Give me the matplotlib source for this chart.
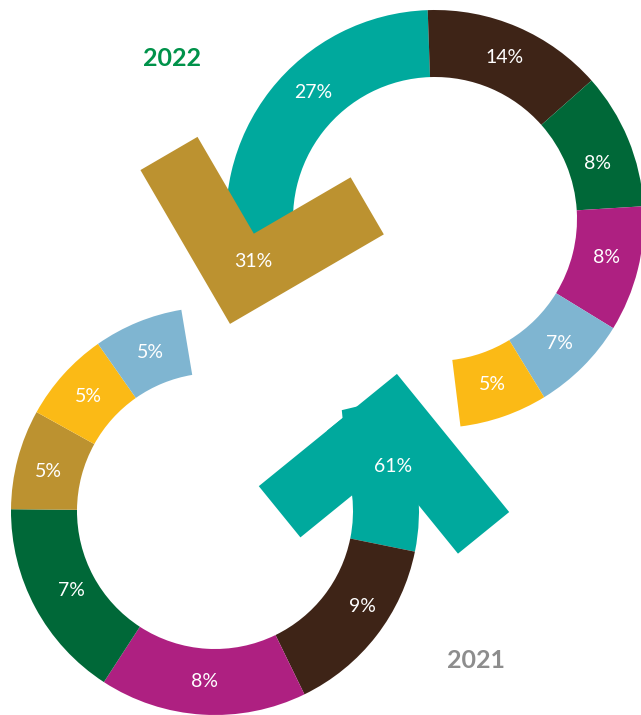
import numpy as np
import matplotlib
matplotlib.use("Agg")
import matplotlib.pyplot as plt
from matplotlib.patches import Wedge, Polygon

plt.rcParams['font.family'] = ['Lato', 'DejaVu Sans']

# ---------------- data ----------------
categories = ['Teal', 'Brown', 'Dark green', 'Magenta', 'Light blue', 'Yellow', 'Gold']
colors = ['#00A99D', '#3E2417', '#006838', '#AE2081', '#7FB5D1', '#FBBA16', '#BC9230']
values_2022 = [27, 14, 8, 8, 7, 5, 31]
values_2021 = [61, 9, 7, 8, 5, 5, 5]
years = ['2022', '2021']

color_of = dict(zip(categories, colors))

# ---------------- layout (infographic, not to scale) ----------------
W, H = 641, 715
rings = [
    dict(year=years[0], values=dict(zip(categories, values_2022)),
         center=(435, 496), r_out=209, r_in=142,
         order=['Teal', 'Brown', 'Dark green', 'Magenta', 'Light blue', 'Yellow'],
         edges=[176, 92, 41.5, 3.5, -31.5, -58.5, -83], tuck=16,
         label_at={'Dark green': (172, 19), 'Magenta': (176, -12.5)},
         arrow='Gold', tip=(230.3, 207.1), point=255.2, arrow_label=(187, 193),
         year_pos=(172, H - 59), year_color='#00924A', notch=None),
    dict(year=years[1], values=dict(zip(categories, values_2021)),
         center=(215, 204), r_out=204, r_in=138,
         order=['Teal', 'Brown', 'Magenta', 'Dark green', 'Gold', 'Yellow', 'Light blue'],
         edges=[60, -11.5, -64, -123, -180.5, -209, -235, -260.5], tuck=0,
         label_at={'Brown': (176, -33), 'Dark green': (164, -151), 'Gold': (171, 166.5)},
         arrow='Teal', tip=(227.8, 37.0), point=84.1, arrow_label=(184, 14),
         year_pos=(476, H - 660), year_color='#8D8D8D',
         notch=(162, 38.5, 13.4, -84.3)),
]
ARM_LEN, ARM_W = 178, 66


def unit(deg):
    a = np.deg2rad(deg)
    return np.array([np.cos(a), np.sin(a)])


def polar(center, r, deg):
    return np.array(center) + r * unit(deg)


def chevron(tip, point_deg):
    u = unit(point_deg)
    back = -u
    def rot(v, deg):
        a = np.deg2rad(deg)
        return np.array([v[0] * np.cos(a) - v[1] * np.sin(a),
                         v[0] * np.sin(a) + v[1] * np.cos(a)])
    d1, d2 = rot(back, 45), rot(back, -45)
    V = tip + back * ARM_W * np.sqrt(2)
    pts = [tip, tip + ARM_LEN * d1, V + (ARM_LEN - ARM_W) * d1, V,
           V + (ARM_LEN - ARM_W) * d2, tip + ARM_LEN * d2]
    return np.array(pts), d1, d2


def intersect(p, d, q, e):
    A = np.array([d, -e]).T
    s, _ = np.linalg.solve(A, q - p)
    return p + s * d


fig = plt.figure(figsize=(W / 100, H / 100), dpi=100)
ax = fig.add_axes([0, 0, 1, 1])
ax.set_xlim(0, W)
ax.set_ylim(0, H)
ax.set_aspect('equal')
ax.axis('off')

label_kw = dict(color='white', fontsize=14, ha='center', va='center', zorder=5)

for ring in rings:
    c = ring['center']
    ro, ri = ring['r_out'], ring['r_in']
    edges = ring['edges']
    tip = polar(c, *ring['tip'])
    pts, d1, d2 = chevron(tip, ring['point'])

    for i, cat in enumerate(ring['order']):
        a_start, a_end = edges[i + 1], edges[i]
        if i == 0:
            a_end = a_end + ring['tuck']
        w = Wedge(c, ro, a_start, a_end, width=ro - ri, facecolor=color_of[cat],
                  edgecolor='none', linewidth=0, zorder=1)
        ax.add_patch(w)
        if cat == ring['arrow'] and ring['notch'] is not None:
            r0, a0, e1d, e2d = ring['notch']
            C = polar(c, r0, a0)
            e1, e2 = unit(e1d), unit(e2d)
            d_left = d1 if d1[0] < 0 else d2
            Q = intersect(C, e2, tip, d_left)
            P0 = C + 3000 * e1
            P3 = Q + 3000 * d_left
            clip = Polygon([P0, C, Q, P3, (P3[0], -5000), (5000, -5000), (5000, P0[1])],
                           closed=True, transform=ax.transData)
            w.set_clip_path(clip)
        if cat != ring['arrow']:
            if cat in ring['label_at']:
                p = polar(c, *ring['label_at'][cat])
            else:
                mid = (edges[i] + edges[i + 1]) / 2
                p = polar(c, (ro + ri) / 2, mid)
            ax.text(p[0], p[1], f"{ring['values'][cat]}%", **label_kw)

    ax.add_patch(Polygon(pts, closed=True, facecolor=color_of[ring['arrow']],
                         edgecolor='none', linewidth=0, zorder=3))
    lp = polar(c, *ring['arrow_label'])
    ax.text(lp[0], lp[1], f"{ring['values'][ring['arrow']]}%", **label_kw)

    ax.text(ring['year_pos'][0], ring['year_pos'][1], ring['year'],
            color=ring['year_color'], fontsize=18, fontweight='bold',
            ha='center', va='center', zorder=5)

fig.savefig('out.png', dpi=100, facecolor='white')
